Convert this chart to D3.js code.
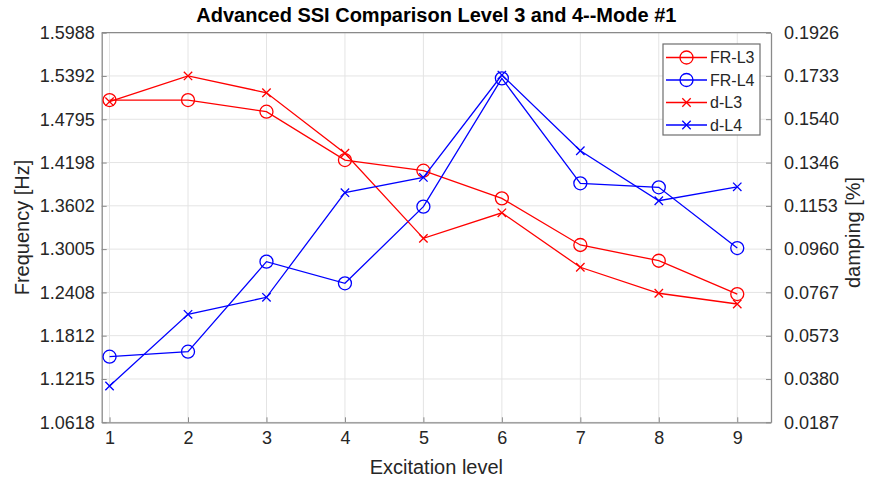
<!DOCTYPE html>
<html>
<head>
<meta charset="utf-8">
<script src="https://cdn.jsdelivr.net/npm/d3@7"></script>
<style>
  html, body { margin: 0; padding: 0; background: #fff; }
  svg { display: block; font-family: "Liberation Sans", Arial, Helvetica, sans-serif; }
</style>
</head>
<body>
<svg id="chart" width="869" height="483"></svg>
<script>
// Excitation levels on the x axis
const levels = [1, 2, 3, 4, 5, 6, 7, 8, 9];

// Identified frequency [Hz] (left axis)
const frL3 = [1.5060, 1.5060, 1.4899, 1.4233, 1.4086, 1.3705, 1.3062, 1.2845, 1.2386];
const frL4 = [1.1522, 1.1591, 1.2832, 1.2534, 1.3590, 1.5359, 1.3912, 1.3857, 1.3020];

// Identified damping [%] (right axis)
const dL3 = [0.1618, 0.1733, 0.1658, 0.1388, 0.1008, 0.1122, 0.0879, 0.0763, 0.0715];
const dL4 = [0.0349, 0.0669, 0.0745, 0.1212, 0.1280, 0.1737, 0.1399, 0.1176, 0.1238];

// Tick labels
const leftTicks = [1.0618, 1.1215, 1.1812, 1.2408, 1.3005, 1.3602, 1.4198, 1.4795, 1.5392, 1.5988];
const rightTicks = [0.0187, 0.0380, 0.0573, 0.0767, 0.0960, 0.1153, 0.1346, 0.1540, 0.1733, 0.1926];

const series = [
  { name: "FR-L3", values: frL3, axis: "left",  color: "#ff0000", marker: "circle" },
  { name: "FR-L4", values: frL4, axis: "left",  color: "#0000ff", marker: "circle" },
  { name: "d-L3",  values: dL3,  axis: "right", color: "#ff0000", marker: "cross" },
  { name: "d-L4",  values: dL4,  axis: "right", color: "#0000ff", marker: "cross" }
];

const svg = d3.select("#chart");
const W = 869, H = 483;
const plot = { left: 101.7, right: 771, top: 32.7, bottom: 422.3 };

const axisColor = "#8a8a8a";
const textColor = "#262626";
const gridColor = "#e4e4e4";
const tickFont = "18px", labelFont = "20px";

svg.append("rect").attr("width", W).attr("height", H).attr("fill", "#fff");

const x = d3.scaleLinear().domain([0.9, 9.43]).range([plot.left, plot.right]);
const yL = d3.scaleLinear().domain([leftTicks[0], leftTicks[leftTicks.length - 1]]).range([plot.bottom, plot.top]);
const yR = d3.scaleLinear().domain([rightTicks[0], rightTicks[rightTicks.length - 1]]).range([plot.bottom, plot.top]);

// Grid
const grid = svg.append("g").attr("stroke", gridColor).attr("stroke-width", 1);
grid.selectAll("line.gx").data(levels).join("line")
  .attr("x1", d => x(d)).attr("x2", d => x(d))
  .attr("y1", plot.top).attr("y2", plot.bottom);
grid.selectAll("line.gy").data(leftTicks).join("line")
  .attr("x1", plot.left).attr("x2", plot.right)
  .attr("y1", d => yL(d)).attr("y2", d => yL(d));

// Axes with inward ticks
function styleAxis(g) {
  g.selectAll("path.domain").attr("stroke", axisColor).attr("stroke-width", 1.3);
  g.selectAll(".tick line").attr("stroke", axisColor).attr("stroke-width", 1);
  g.selectAll(".tick text").attr("fill", textColor).style("font-size", tickFont)
    .style("font-family", "'Liberation Sans', Arial, sans-serif");
}

const gx = svg.append("g").attr("transform", `translate(0,${plot.bottom})`)
  .call(d3.axisBottom(x).tickValues(levels).tickFormat(d3.format("d"))
    .tickSizeInner(-5).tickSizeOuter(0).tickPadding(9));
styleAxis(gx);

const gl = svg.append("g").attr("transform", `translate(${plot.left},0)`)
  .call(d3.axisLeft(yL).tickValues(leftTicks).tickFormat(d3.format(".4f"))
    .tickSizeInner(-5).tickSizeOuter(0).tickPadding(7));
styleAxis(gl);

const gr = svg.append("g").attr("transform", `translate(${plot.right},0)`)
  .call(d3.axisRight(yR).tickValues(rightTicks).tickFormat(d3.format(".4f"))
    .tickSizeInner(-5).tickSizeOuter(0).tickPadding(13));
styleAxis(gr);

// Top border
svg.append("line")
  .attr("x1", plot.left).attr("x2", plot.right)
  .attr("y1", plot.top).attr("y2", plot.top)
  .attr("stroke", axisColor).attr("stroke-width", 1.3);

// Data lines and markers
const circleR = 6.5, crossH = 4.2;
function drawMarker(g, type, cx, cy, color) {
  if (type === "circle") {
    g.append("circle").attr("cx", cx).attr("cy", cy).attr("r", circleR)
      .attr("fill", "none").attr("stroke", color).attr("stroke-width", 1.3);
  } else {
    g.append("path")
      .attr("d", `M${cx - crossH},${cy - crossH}L${cx + crossH},${cy + crossH}M${cx - crossH},${cy + crossH}L${cx + crossH},${cy - crossH}`)
      .attr("stroke", color).attr("stroke-width", 1.3).attr("fill", "none");
  }
}

const plotArea = svg.append("g");
series.forEach(s => {
  const yScale = s.axis === "left" ? yL : yR;
  const pts = levels.map((lv, i) => [x(lv), yScale(s.values[i])]);
  plotArea.append("path")
    .attr("d", d3.line()(pts))
    .attr("fill", "none").attr("stroke", s.color).attr("stroke-width", 1.3);
  const mg = plotArea.append("g");
  pts.forEach(p => drawMarker(mg, s.marker, p[0], p[1], s.color));
});

// Legend
const legend = svg.append("g");
const lg = { x0: 663, x1: 760, y0: 44, y1: 135 };
legend.append("rect")
  .attr("x", lg.x0).attr("y", lg.y0)
  .attr("width", lg.x1 - lg.x0).attr("height", lg.y1 - lg.y0)
  .attr("fill", "#fff").attr("stroke", "#6e6e6e").attr("stroke-width", 1.2);
series.forEach((s, i) => {
  const ly = 57.5 + i * 22.5;
  legend.append("line").attr("x1", 666).attr("x2", 707).attr("y1", ly).attr("y2", ly)
    .attr("stroke", s.color).attr("stroke-width", 1.3);
  drawMarker(legend, s.marker, 686.5, ly, s.color);
  legend.append("text").attr("x", 710).attr("y", ly).attr("dy", "0.35em")
    .attr("fill", textColor).style("font-size", "16px").text(s.name);
});

// Titles and axis labels
svg.append("text")
  .attr("x", (plot.left + plot.right) / 2).attr("y", 15).attr("dy", "0.35em")
  .attr("text-anchor", "middle").attr("fill", "#000")
  .style("font-size", "20px").style("font-weight", "bold")
  .text("Advanced SSI Comparison Level 3 and 4--Mode #1");

svg.append("text")
  .attr("x", (plot.left + plot.right) / 2).attr("y", 467).attr("dy", "0.35em")
  .attr("text-anchor", "middle").attr("fill", textColor)
  .style("font-size", labelFont)
  .text("Excitation level");

svg.append("text")
  .attr("transform", `translate(22,${(plot.top + plot.bottom) / 2}) rotate(-90)`)
  .attr("dy", "0.35em").attr("text-anchor", "middle").attr("fill", textColor)
  .style("font-size", labelFont)
  .text("Frequency [Hz]");

svg.append("text")
  .attr("transform", `translate(853,${(plot.top + plot.bottom) / 2 + 5}) rotate(-90)`)
  .attr("dy", "0.35em").attr("text-anchor", "middle").attr("fill", textColor)
  .style("font-size", labelFont)
  .text("damping [%]");
</script>
</body>
</html>
